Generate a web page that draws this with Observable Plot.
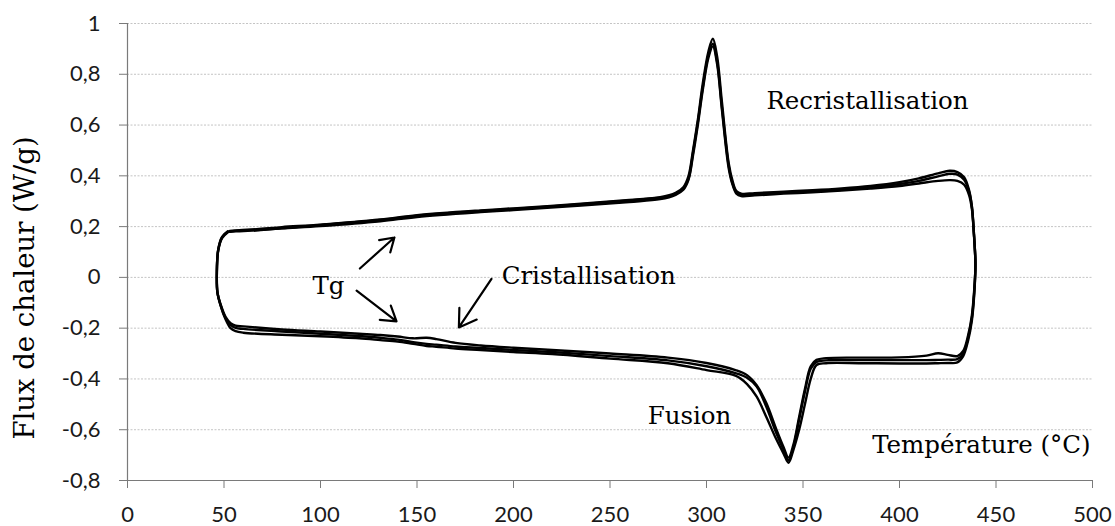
<!DOCTYPE html>
<html><head><meta charset="utf-8">
<script src="https://cdn.jsdelivr.net/npm/d3@7"></script>
<script src="https://cdn.jsdelivr.net/npm/@observablehq/plot@0.6"></script>
<style>body{margin:0;background:#fff}</style>
</head><body><div id="chart"></div>
<script>
// Heating branch (lower curve), shared temperatures
const heatT = [52, 49, 47, 46.3, 46.6, 48.2, 50.8, 53.4, 56, 60, 80, 100, 120, 131, 140, 148, 155, 160, 170, 183, 200, 220, 250, 280, 300, 315, 321, 326, 331, 336, 340, 342.5, 345, 348, 351, 354, 357, 362, 380, 400, 414, 420, 425, 430, 433, 435.5, 437.5, 438.7, 439.3];
const heat1 = [0.182, 0.16, 0.11, 0.02, -0.06, -0.105, -0.155, -0.18, -0.19, -0.193, -0.205, -0.213, -0.222, -0.227, -0.233, -0.24, -0.238, -0.243, -0.258, -0.268, -0.277, -0.286, -0.300, -0.316, -0.337, -0.365, -0.385, -0.425, -0.495, -0.595, -0.67, -0.71, -0.66, -0.55, -0.44, -0.35, -0.325, -0.318, -0.316, -0.315, -0.308, -0.299, -0.305, -0.31, -0.29, -0.23, -0.15, -0.05, 0.03];
const heat2 = [0.18, 0.158, 0.108, 0.02, -0.06, -0.108, -0.16, -0.187, -0.199, -0.203, -0.213, -0.222, -0.231, -0.238, -0.245, -0.255, -0.262, -0.265, -0.272, -0.278, -0.286, -0.294, -0.31, -0.327, -0.35, -0.377, -0.395, -0.43, -0.51, -0.61, -0.68, -0.72, -0.67, -0.56, -0.45, -0.36, -0.333, -0.327, -0.326, -0.326, -0.326, -0.325, -0.324, -0.322, -0.3, -0.24, -0.16, -0.06, 0.03];
const heat3 = [0.178, 0.155, 0.105, 0.02, -0.06, -0.11, -0.165, -0.2, -0.212, -0.218, -0.226, -0.232, -0.24, -0.247, -0.253, -0.262, -0.27, -0.273, -0.28, -0.286, -0.294, -0.302, -0.32, -0.338, -0.365, -0.387, -0.42, -0.47, -0.55, -0.635, -0.695, -0.73, -0.68, -0.6, -0.5, -0.4, -0.345, -0.338, -0.338, -0.339, -0.339, -0.338, -0.337, -0.335, -0.31, -0.25, -0.17, -0.07, 0.03];

// Cooling branch (upper curve), shared temperatures
const coolT = [439.3, 438.5, 437.5, 436, 433.5, 430, 426, 420, 410, 400, 385, 370, 355, 340, 325, 318, 315.5, 313.5, 311.5, 308, 305.5, 303.3, 301, 298, 295.5, 293, 290.7, 288, 284, 276, 260, 235, 200, 183, 150, 131, 100, 80, 67, 58, 53];
const cool1 = [0.07, 0.18, 0.28, 0.345, 0.395, 0.415, 0.42, 0.41, 0.39, 0.375, 0.36, 0.35, 0.343, 0.338, 0.332, 0.33, 0.34, 0.38, 0.45, 0.69, 0.87, 0.94, 0.89, 0.76, 0.62, 0.5, 0.4, 0.355, 0.333, 0.316, 0.305, 0.29, 0.272, 0.264, 0.245, 0.228, 0.208, 0.198, 0.19, 0.186, 0.183];
const cool2 = [0.07, 0.18, 0.28, 0.34, 0.385, 0.405, 0.408, 0.398, 0.38, 0.368, 0.355, 0.345, 0.338, 0.333, 0.327, 0.325, 0.335, 0.37, 0.44, 0.67, 0.85, 0.92, 0.875, 0.745, 0.61, 0.49, 0.39, 0.35, 0.328, 0.311, 0.3, 0.286, 0.268, 0.26, 0.241, 0.224, 0.205, 0.195, 0.188, 0.184, 0.181];
const cool3 = [0.07, 0.175, 0.27, 0.325, 0.365, 0.38, 0.383, 0.38, 0.37, 0.36, 0.35, 0.342, 0.335, 0.33, 0.323, 0.32, 0.33, 0.365, 0.43, 0.66, 0.84, 0.91, 0.865, 0.735, 0.6, 0.48, 0.385, 0.345, 0.325, 0.308, 0.297, 0.283, 0.265, 0.257, 0.238, 0.221, 0.202, 0.193, 0.186, 0.182, 0.18];

// Start of the first run (extra overlapping trace on the upper branch)
const startT = [66, 100, 131, 150, 183, 200, 235, 260, 276];
const startQ = [0.184, 0.207, 0.226, 0.243, 0.262, 0.27, 0.288, 0.303, 0.314];

const xTicks = [0, 50, 100, 150, 200, 250, 300, 350, 400, 450, 500];
const xTickLabels = ["0", "50", "100", "150", "200", "250", "300", "350", "400", "450", "500"];
const yTicks = [-0.8, -0.6, -0.4, -0.2, 0, 0.2, 0.4, 0.6, 0.8, 1];
const yTickLabels = ["-0,8", "-0,6", "-0,4", "-0,2", "0", "0,2", "0,4", "0,6", "0,8", "1"];

const labelText = ["Recristallisation", "Tg", "Cristallisation", "Fusion", "Température (°C)"];
const labelX = [383.4, 104.1, 239, 291.2, 499];
const labelY = [0.693, -0.035, 0.004, -0.547, -0.659];
const labelAnchor = ["middle", "middle", "middle", "middle", "end"];

const arrowX1 = [120.4, 118.7, 188.6];
const arrowY1 = [0.035, -0.052, -0.006];
const arrowX2 = [138.3, 139.4, 171.7];
const arrowY2 = [0.157, -0.173, -0.197];

const yAxisTitle = "Flux de chaleur (W/g)";

const rows = [];
[[heat1, cool1], [heat2, cool2], [heat3, cool3]].forEach(([h, c], i) => {
  heatT.forEach((t, j) => rows.push({cycle: i, T: t, q: h[j]}));
  coolT.forEach((t, j) => rows.push({cycle: i, T: t, q: c[j]}));
});
startT.forEach((t, j) => rows.push({cycle: 3, T: t, q: startQ[j]}));
const labels = labelText.map((t, i) => ({t, x: labelX[i], y: labelY[i], a: labelAnchor[i]}));
const arrows = arrowX1.map((x, i) => ({x1: x, y1: arrowY1[i], x2: arrowX2[i], y2: arrowY2[i]}));
const yTickRows = yTicks.map((v, i) => ({v, s: yTickLabels[i]}));
const xTickRows = xTicks.map((v, i) => ({v, s: xTickLabels[i]}));

const serif = "DejaVu Serif";
const sans = "Lato";
const chart = Plot.plot({
  width: 1115, height: 526,
  marginLeft: 127, marginRight: 23, marginTop: 23, marginBottom: 46,
  style: {background: "#fff", color: "#000"},
  x: {domain: [0, 500]},
  y: {domain: [-0.8, 1]},
  marks: [
    Plot.gridY(yTicks.filter(d => d > -0.8), {stroke: "#c4c4c4", strokeOpacity: 1, strokeDasharray: "2,1.5", strokeWidth: 1}),
    Plot.ruleX([0], {stroke: "#7a7a7a", strokeWidth: 1.2}),
    Plot.ruleY([-0.8], {stroke: "#7a7a7a", strokeWidth: 1.2}),
    Plot.axisY({ticks: yTicks, tickSize: 8, stroke: "#7a7a7a", label: null, tickFormat: () => ""}),
    Plot.axisX({ticks: xTicks, tickSize: 8, stroke: "#7a7a7a", label: null, tickFormat: () => ""}),
    Plot.text(yTickRows, {y: "v", text: "s", frameAnchor: "left", textAnchor: "end", lineAnchor: "middle", dx: -27, fontFamily: sans, fontSize: 22, fill: "#1a1a1a"}),
    Plot.text(xTickRows, {x: "v", text: "s", frameAnchor: "bottom", textAnchor: "middle", lineAnchor: "top", dy: 26, fontFamily: sans, fontSize: 22, fill: "#1a1a1a"}),
    Plot.line(rows, {x: "T", y: "q", z: "cycle", stroke: "#000", strokeWidth: 2.4, curve: "catmull-rom"}),
    Plot.arrow(arrows, {x1: "x1", y1: "y1", x2: "x2", y2: "y2", stroke: "#000", strokeWidth: 2.2, headLength: 15, headAngle: 65}),
    Plot.text(labels, {x: "x", y: "y", text: "t", textAnchor: "end", filter: d => d.a === "end", fontFamily: serif, fontSize: 24.5, fill: "#000"}),
    Plot.text(labels, {x: "x", y: "y", text: "t", textAnchor: "middle", filter: d => d.a === "middle", fontFamily: serif, fontSize: 24.5, fill: "#000"}),
    Plot.text([yAxisTitle], {text: d => d, frameAnchor: "left", textAnchor: "middle", lineAnchor: "middle", rotate: -90, dx: -102, dy: 36, fontFamily: serif, fontSize: 27.5, fill: "#000"})
  ]
});
document.getElementById("chart").appendChild(chart);
</script>
</body></html>
